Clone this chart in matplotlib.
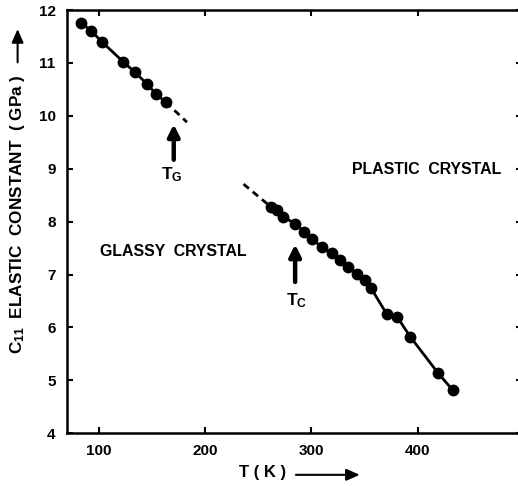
import numpy as np
import matplotlib
matplotlib.use('Agg')
import matplotlib.pyplot as plt

plt.rcParams['font.family'] = ['Liberation Sans', 'DejaVu Sans']
plt.rcParams['font.weight'] = 'bold'
plt.rcParams['mathtext.fontset'] = 'custom'
plt.rcParams['mathtext.rm'] = 'Liberation Sans:bold'
plt.rcParams['mathtext.bf'] = 'Liberation Sans:bold'
plt.rcParams['mathtext.it'] = 'Liberation Sans:bold'

# glassy crystal branch
t_glass = [83.8, 93.2, 103.5, 123.2, 134.4, 145.0, 154.1, 163.1]
c_glass = [11.76, 11.60, 11.39, 11.02, 10.82, 10.61, 10.41, 10.26]
t_glass_ext = [163.1, 183.0]
c_glass_ext = [10.26, 9.88]

# plastic crystal branch
t_plast = [261.9, 268.1, 273.7, 284.7, 293.4, 300.3, 309.7, 319.1, 326.9,
           334.7, 343.1, 350.3, 355.9, 370.6, 380.6, 393.1, 419.0, 433.1]
c_plast = [8.28, 8.22, 8.09, 7.96, 7.81, 7.68, 7.52, 7.40, 7.27,
           7.14, 7.02, 6.89, 6.75, 6.26, 6.20, 5.82, 5.14, 4.81]
t_plast_ext = [236.2, 261.9]
c_plast_ext = [8.71, 8.28]

x_ticks = [100, 200, 300, 400]
y_ticks = [4, 5, 6, 7, 8, 9, 10, 11, 12]

fig = plt.figure(figsize=(5.18, 4.86), dpi=100)
ax = fig.add_axes([0.1288, 0.1084, 0.878, 0.871])

ax.plot(t_glass, c_glass, color='black', lw=2, marker='o', ms=7.5)
ax.plot(t_glass_ext, c_glass_ext, color='black', lw=2, ls=(0, (2.5, 1.8)))
ax.plot(t_plast, c_plast, color='black', lw=2, marker='o', ms=7.5)
ax.plot(t_plast_ext, c_plast_ext, color='black', lw=2, ls=(0, (2.5, 1.8)))

ax.set_xlim(70, 497.5)
ax.set_ylim(4, 12)
ax.set_xticks(x_ticks)
ax.set_yticks(y_ticks)
ax.tick_params(direction='in', length=4, width=1.5, top=True, right=True,
               labelsize=11, pad=8)
for s in ax.spines.values():
    s.set_linewidth(1.8)

# transition arrows
arrow = dict(arrowstyle='-|>,head_width=0.35,head_length=0.7', lw=3.2,
             color='black', shrinkA=0, shrinkB=0)
ax.annotate('', xy=(170.6, 9.84), xytext=(170.6, 9.17), arrowprops=arrow)
ax.annotate('', xy=(284.7, 7.57), xytext=(284.7, 6.86), arrowprops=arrow)
ax.text(169, 8.88, r'T$_{\mathrm{G}}$', fontsize=12.5, ha='center', va='center')
ax.text(286, 6.51, r'T$_{\mathrm{C}}$', fontsize=12.5, ha='center', va='center')

ax.text(170, 7.43, 'GLASSY  CRYSTAL', fontsize=11.4, ha='center', va='center')
ax.text(408, 8.98, 'PLASTIC  CRYSTAL', fontsize=11.4, ha='center', va='center')

# axis labels with arrows
fig.text(0.034, 0.56, r'C$_{11}$  ELASTIC  CONSTANT  ( GPa )', rotation=90,
         fontsize=12.3, ha='center', va='center')
fig.text(0.506, 0.027, 'T ( K )', fontsize=12, ha='center', va='center')
fig.add_artist(matplotlib.patches.FancyArrowPatch(
    (0.034, 0.866), (0.034, 0.946), transform=fig.transFigure,
    arrowstyle='-|>,head_width=3.5,head_length=8', lw=1.5, color='black'))
fig.add_artist(matplotlib.patches.FancyArrowPatch(
    (0.566, 0.023), (0.70, 0.023), transform=fig.transFigure,
    arrowstyle='-|>,head_width=3.5,head_length=8', lw=1.5, color='black'))

fig.savefig('out.png', dpi=100)
